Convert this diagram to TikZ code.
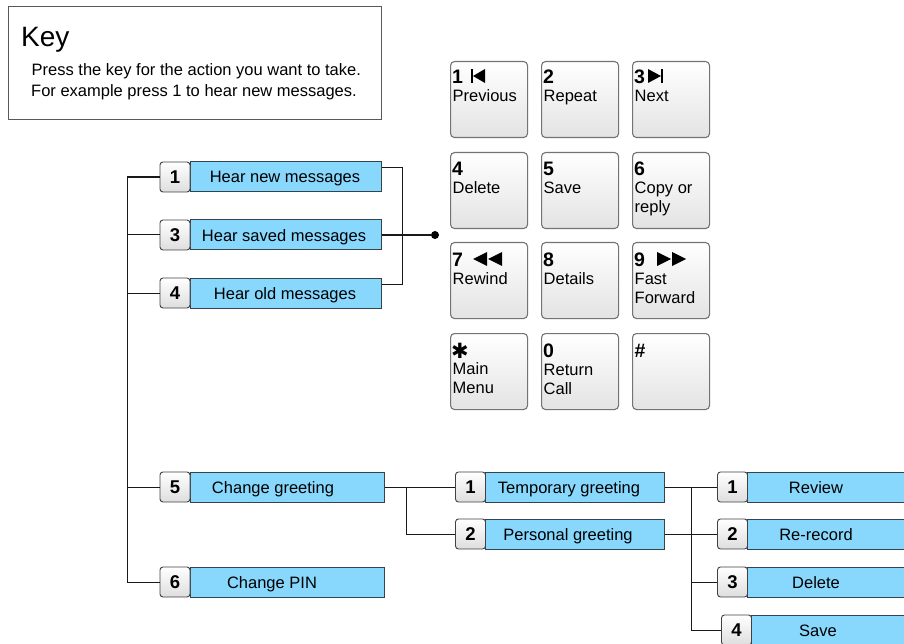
\documentclass[tikz,border=0pt]{standalone}
\usepackage{fontspec}
\setmainfont{Liberation Sans}
\newfontfamily\symfont{DejaVu Sans}
\definecolor{menublue}{HTML}{88D8FE}
\definecolor{boxedge}{HTML}{34444C}
\begin{document}
\begin{tikzpicture}[x=1pt,y=-1pt,
  txt/.style={inner sep=0pt, font=\fontsize{16.5}{19}\selectfont},
  numtxt/.style={inner sep=0pt, font=\fontsize{19.5}{19}\selectfont\bfseries},
  numbox/.style={draw=black!75, line width=0.9pt, rounded corners=3pt, top color=white, bottom color=black!13, minimum width=30pt, minimum height=30pt, inner sep=0pt, font=\fontsize{18.5}{18}\selectfont\bfseries},
  bluebox/.style={draw=boxedge, line width=1pt, fill=menublue, minimum height=30pt, inner sep=0pt, anchor=west},
  keybtn/.style={draw=black!55, line width=1.1pt, rounded corners=4pt, top color=white, bottom color=black!11, minimum width=77pt, minimum height=76pt, inner sep=0pt, anchor=north west},
  conn/.style={draw=black!90, line width=1pt},
  sym/.style={fill=black}]
\useasboundingbox (0,0) rectangle (904,644);
\clip (0,0) rectangle (904,644);

% Key box
\node[draw=black!65, line width=1pt, minimum width=373pt, minimum height=113pt, anchor=north west, inner sep=0pt] (keybox) at (8,6) {};
\node[anchor=base west, inner sep=0pt, font=\fontsize{28}{28}\selectfont] (keytitle) at (21,47) {Key};
\node[txt, anchor=base west] (keyl1) at (31.5,76) {Press the key for the action you want to take.};
\node[txt, anchor=base west] (keyl2) at (31,97) {For example press 1 to hear new messages.};

% Keypad
\node[keybtn] (k1) at (450,61) {};
\node[keybtn] (k2) at (541,61) {};
\node[keybtn] (k3) at (632,61) {};
\node[keybtn] (k4) at (450,152) {};
\node[keybtn] (k5) at (541,152) {};
\node[keybtn] (k6) at (632,152) {};
\node[keybtn] (k7) at (450,242) {};
\node[keybtn] (k8) at (541,242) {};
\node[keybtn] (k9) at (632,242) {};
\node[keybtn] (ks) at (450,333) {};
\node[keybtn] (k0) at (541,333) {};
\node[keybtn] (kh) at (632,333) {};

\node[numtxt, anchor=base west] (k1n) at ([shift={(2,22.5)}]k1.north west) {1};
\node[txt, anchor=base west] (k1a) at ([shift={(2.5,40.5)}]k1.north west) {Previous};
\node[numtxt, anchor=base west] (k2n) at ([shift={(2,22.5)}]k2.north west) {2};
\node[txt, anchor=base west] (k2a) at ([shift={(2.5,40.5)}]k2.north west) {Repeat};
\node[numtxt, anchor=base west] (k3n) at ([shift={(2,22.5)}]k3.north west) {3};
\node[txt, anchor=base west] (k3a) at ([shift={(2.5,40.5)}]k3.north west) {Next};
\node[numtxt, anchor=base west] (k4n) at ([shift={(2,24)}]k4.north west) {4};
\node[txt, anchor=base west] (k4a) at ([shift={(2.5,42)}]k4.north west) {Delete};
\node[numtxt, anchor=base west] (k5n) at ([shift={(2,24)}]k5.north west) {5};
\node[txt, anchor=base west] (k5a) at ([shift={(2.5,42)}]k5.north west) {Save};
\node[numtxt, anchor=base west] (k6n) at ([shift={(2,24)}]k6.north west) {6};
\node[txt, anchor=base west] (k6a) at ([shift={(2.5,42)}]k6.north west) {Copy or};
\node[txt, anchor=base west] (k6b) at ([shift={(2.5,61)}]k6.north west) {reply};
\node[numtxt, anchor=base west] (k7n) at ([shift={(2,24)}]k7.north west) {7};
\node[txt, anchor=base west] (k7a) at ([shift={(2.5,42)}]k7.north west) {Rewind};
\node[numtxt, anchor=base west] (k8n) at ([shift={(2,24)}]k8.north west) {8};
\node[txt, anchor=base west] (k8a) at ([shift={(2.5,42)}]k8.north west) {Details};
\node[numtxt, anchor=base west] (k9n) at ([shift={(2,24)}]k9.north west) {9};
\node[txt, anchor=base west] (k9a) at ([shift={(2.5,42)}]k9.north west) {Fast};
\node[txt, anchor=base west] (k9b) at ([shift={(2.5,61)}]k9.north west) {Forward};
\node[inner sep=0pt, anchor=base west, font=\symfont\fontsize{21}{21}\selectfont\bfseries] (ksn) at ([shift={(1,25)}]ks.north west) {✱};
\node[txt, anchor=base west] (ksa) at ([shift={(2.5,41)}]ks.north west) {Main};
\node[txt, anchor=base west] (ksb) at ([shift={(2.5,60)}]ks.north west) {Menu};
\node[numtxt, anchor=base west] (k0n) at ([shift={(2,24)}]k0.north west) {0};
\node[txt, anchor=base west] (k0a) at ([shift={(2.5,42)}]k0.north west) {Return};
\node[txt, anchor=base west] (k0b) at ([shift={(2.5,61)}]k0.north west) {Call};
\node[numtxt, anchor=base west] (khn) at ([shift={(2.5,24)}]kh.north west) {\#};

% key symbols
\fill[sym] ([shift={(21,8)}]k1.north west) rectangle ([shift={(22.8,22)}]k1.north west);
\fill[sym] ([shift={(35,8)}]k1.north west) -- ([shift={(35,22)}]k1.north west) -- ([shift={(23,15)}]k1.north west) -- cycle;
\fill[sym] ([shift={(16,8)}]k3.north west) -- ([shift={(16,22)}]k3.north west) -- ([shift={(29,15)}]k3.north west) -- cycle;
\fill[sym] ([shift={(29.3,8)}]k3.north west) rectangle ([shift={(31,22)}]k3.north west);
\fill[sym] ([shift={(37,10)}]k7.north west) -- ([shift={(37,24)}]k7.north west) -- ([shift={(23,17)}]k7.north west) -- cycle;
\fill[sym] ([shift={(52,10)}]k7.north west) -- ([shift={(52,24)}]k7.north west) -- ([shift={(38,17)}]k7.north west) -- cycle;
\fill[sym] ([shift={(25,10)}]k9.north west) -- ([shift={(25,24)}]k9.north west) -- ([shift={(39,17)}]k9.north west) -- cycle;
\fill[sym] ([shift={(40,10)}]k9.north west) -- ([shift={(40,24)}]k9.north west) -- ([shift={(54,17)}]k9.north west) -- cycle;

% Main menu items
\node[bluebox, minimum width=191pt] (b1) at (190,177) {};
\node[bluebox, minimum width=191pt] (b3) at (190,235) {};
\node[bluebox, minimum width=191pt] (b4) at (190,293) {};
\node[bluebox, minimum width=194pt] (b5) at (190,487) {};
\node[bluebox, minimum width=194pt] (b6) at (190,582) {};
\node[numbox] (n1) at (175,177) {1};
\node[numbox] (n3) at (175,235) {3};
\node[numbox] (n4) at (175,293) {4};
\node[numbox] (n5) at (175,487) {5};
\node[numbox] (n6) at (175,582) {6};
\node[txt, anchor=base] (t1) at (285,183) {Hear new messages};
\node[txt, anchor=base] (t3) at (284,241) {Hear saved messages};
\node[txt, anchor=base] (t4) at (285,299) {Hear old messages};
\node[txt, anchor=base] (t5) at (273,493) {Change greeting};
\node[txt, anchor=base] (t6) at (272,588) {Change PIN};

% Greeting submenu
\node[bluebox, minimum width=179pt] (bg1) at (485,487) {};
\node[bluebox, minimum width=179pt] (bg2) at (485,534) {};
\node[numbox] (ng1) at (470.5,487) {1};
\node[numbox] (ng2) at (470.5,534) {2};
\node[txt, anchor=base] (tg1) at (569,493) {Temporary greeting};
\node[txt, anchor=base] (tg2) at (568,540) {Personal greeting};

% Recording submenu
\node[bluebox, minimum width=190pt] (br1) at (747,487) {};
\node[bluebox, minimum width=190pt] (br2) at (747,534) {};
\node[bluebox, minimum width=190pt] (br3) at (747,582) {};
\node[bluebox, minimum width=190pt] (br4) at (751,630) {};
\node[numbox] (nr1) at (732.5,487) {1};
\node[numbox] (nr2) at (732.5,534) {2};
\node[numbox] (nr3) at (732.5,582) {3};
\node[numbox] (nr4) at (736.5,630) {4};
\node[txt, anchor=base] (tr1) at (816,493) {Review};
\node[txt, anchor=base] (tr2) at (816,540) {Re-record};
\node[txt, anchor=base] (tr3) at (816,588) {Delete};
\node[txt, anchor=base] (tr4) at (818,636) {Save};

% Connectors
\coordinate (trA) at (127,177);
\coordinate (trB) at (127,582);
\draw[conn, line width=1.3pt] (n1.west) -- (trA);
\draw[conn] (trA) -- (trB) -- (n6.west);
\draw[conn] (trA |- n3.west) -- (n3.west);
\draw[conn] (trA |- n4.west) -- (n4.west);
\draw[conn] (trA |- n5.west) -- (n5.west);

\coordinate (brT) at (402,168);
\coordinate (brB) at (402,284);
\draw[conn] (b1.east |- brT) -- (brT) -- (brB) -- (b4.east |- brB);
\node[circle, fill=black, inner sep=0pt, minimum size=8pt] (dot) at (435,235) {};
\draw[conn, line width=1.2pt] (b3.east) -- (dot);

\coordinate (gj) at (406,487);
\draw[conn] (b5.east) -- (ng1.west);
\draw[conn] (gj) |- (ng2.west);

\coordinate (rj) at (691,487);
\draw[conn] (bg1.east) -- (nr1.west);
\draw[conn] (bg2.east) -- (nr2.west);
\draw[conn] (rj) |- (nr4.west);
\draw[conn] (rj |- nr3.west) -- (nr3.west);
\end{tikzpicture}
\end{document}
